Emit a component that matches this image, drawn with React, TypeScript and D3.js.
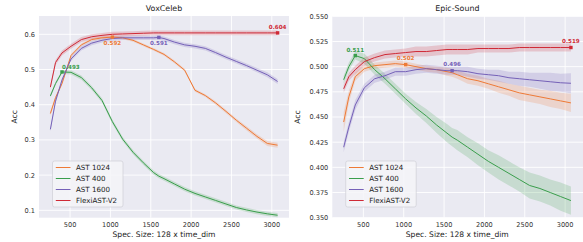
import React, { useEffect, useRef } from "react";
import * as d3 from "d3";

// spectrogram sizes (128 x time_dim)
const specSizes = [256, 320, 400, 512, 640, 768, 896, 1024, 1152, 1280, 1408, 1536, 1600, 1664, 1792, 1920, 2048, 2176, 2304, 2432, 2560, 2688, 2816, 2944, 3072];

const seriesNames = ["AST 1024", "AST 400", "AST 1600", "FlexiAST-V2"];
const colors = ["#ee7a36", "#3a9e4c", "#7561b8", "#cf2a36"];

// VoxCeleb
const voxAst1024 = [0.375, 0.42, 0.46, 0.54, 0.57, 0.585, 0.59, 0.592, 0.59, 0.583, 0.57, 0.557, 0.55, 0.543, 0.522, 0.498, 0.441, 0.426, 0.405, 0.381, 0.356, 0.333, 0.31, 0.29, 0.285];
const voxAst400 = [0.425, 0.46, 0.493, 0.492, 0.477, 0.448, 0.412, 0.352, 0.302, 0.265, 0.235, 0.207, 0.197, 0.19, 0.175, 0.16, 0.148, 0.138, 0.128, 0.118, 0.108, 0.101, 0.095, 0.09, 0.086];
const voxAst1600 = [0.33, 0.41, 0.47, 0.53, 0.56, 0.575, 0.583, 0.588, 0.59, 0.59, 0.59, 0.59, 0.591, 0.588, 0.578, 0.57, 0.566, 0.56, 0.548, 0.535, 0.523, 0.511, 0.498, 0.485, 0.466];
const voxFlexi = [0.45, 0.52, 0.547, 0.566, 0.585, 0.593, 0.597, 0.6, 0.601, 0.602, 0.603, 0.604, 0.604, 0.604, 0.604, 0.604, 0.604, 0.604, 0.604, 0.604, 0.604, 0.604, 0.604, 0.604, 0.604];
const voxErr1024 = [0.006, 0.005, 0.004, 0.004, 0.004, 0.004, 0.004, 0.004, 0.004, 0.004, 0.004, 0.004, 0.004, 0.004, 0.004, 0.004, 0.004, 0.004, 0.005, 0.005, 0.005, 0.006, 0.006, 0.007, 0.007];
const voxErr400 = [0.005, 0.005, 0.005, 0.006, 0.006, 0.006, 0.006, 0.006, 0.006, 0.006, 0.006, 0.006, 0.006, 0.006, 0.006, 0.006, 0.006, 0.006, 0.006, 0.006, 0.006, 0.006, 0.006, 0.006, 0.006];
const voxErr1600 = [0.006, 0.006, 0.006, 0.006, 0.006, 0.006, 0.006, 0.006, 0.006, 0.006, 0.006, 0.006, 0.006, 0.006, 0.006, 0.006, 0.006, 0.006, 0.006, 0.006, 0.006, 0.006, 0.006, 0.007, 0.007];
const voxErrFlexi = [0.006, 0.007, 0.007, 0.007, 0.007, 0.007, 0.007, 0.007, 0.007, 0.007, 0.007, 0.007, 0.007, 0.007, 0.007, 0.007, 0.007, 0.007, 0.007, 0.007, 0.007, 0.007, 0.007, 0.007, 0.007];

// Epic-Sound
const epicAst1024 = [0.445, 0.47, 0.49, 0.498, 0.501, 0.502, 0.503, 0.502, 0.5, 0.498, 0.497, 0.495, 0.494, 0.492, 0.488, 0.486, 0.483, 0.48, 0.477, 0.474, 0.472, 0.47, 0.468, 0.466, 0.464];
const epicAst400 = [0.487, 0.5, 0.511, 0.508, 0.497, 0.488, 0.478, 0.468, 0.459, 0.451, 0.442, 0.434, 0.43, 0.427, 0.42, 0.413, 0.406, 0.4, 0.394, 0.388, 0.382, 0.379, 0.375, 0.371, 0.367];
const epicAst1600 = [0.42, 0.44, 0.462, 0.479, 0.488, 0.491, 0.495, 0.495, 0.497, 0.498, 0.497, 0.496, 0.496, 0.496, 0.495, 0.493, 0.492, 0.491, 0.489, 0.488, 0.487, 0.486, 0.485, 0.484, 0.4835];
const epicFlexi = [0.478, 0.49, 0.497, 0.505, 0.509, 0.512, 0.513, 0.514, 0.515, 0.515, 0.516, 0.517, 0.517, 0.517, 0.517, 0.518, 0.518, 0.518, 0.518, 0.519, 0.519, 0.519, 0.519, 0.519, 0.519];
const epicErr1024 = [0.01, 0.006, 0.004, 0.003, 0.003, 0.003, 0.003, 0.003, 0.003, 0.003, 0.003, 0.004, 0.004, 0.004, 0.005, 0.005, 0.005, 0.006, 0.006, 0.007, 0.007, 0.007, 0.008, 0.008, 0.009];
const epicErr400 = [0.004, 0.004, 0.004, 0.005, 0.005, 0.005, 0.005, 0.005, 0.006, 0.007, 0.008, 0.009, 0.009, 0.01, 0.01, 0.011, 0.011, 0.012, 0.012, 0.012, 0.013, 0.013, 0.013, 0.014, 0.014];
const epicErr1600 = [0.005, 0.005, 0.005, 0.004, 0.004, 0.004, 0.004, 0.004, 0.004, 0.004, 0.004, 0.004, 0.004, 0.004, 0.005, 0.005, 0.005, 0.006, 0.006, 0.007, 0.007, 0.008, 0.009, 0.009, 0.01];
const epicErrFlexi = [0.004, 0.004, 0.004, 0.004, 0.004, 0.004, 0.004, 0.004, 0.005, 0.005, 0.005, 0.005, 0.005, 0.005, 0.005, 0.004, 0.004, 0.004, 0.004, 0.004, 0.004, 0.004, 0.004, 0.004, 0.004];

const voxTicksY = [0.1, 0.2, 0.3, 0.4, 0.5, 0.6];
const epicTicksY = [0.35, 0.375, 0.4, 0.425, 0.45, 0.475, 0.5, 0.525, 0.55];
const ticksX = [500, 1000, 1500, 2000, 2500, 3000];

const FONT = "DejaVu Sans, sans-serif";

function drawPanel(root, opts) {
  const { x0, x1, y0, y1, yDomain, yTicks, yFmt, title, values, errs, peaks, legendX } = opts;
  const g = root.append("g");

  const x = d3.scaleLinear().domain([115, 3213]).range([x0, x0 + 250]);
  const y = d3.scaleLinear().domain(yDomain).range([y1, y0]);

  g.append("rect").attr("x", x0).attr("y", y0).attr("width", x1 - x0).attr("height", y1 - y0).attr("fill", "#eaeaf2");

  // grid
  g.selectAll(".gx").data(ticksX).enter().append("line")
    .attr("x1", d => x(d)).attr("x2", d => x(d)).attr("y1", y0).attr("y2", y1)
    .attr("stroke", "#fff").attr("stroke-width", 0.9);
  g.selectAll(".gy").data(yTicks).enter().append("line")
    .attr("x1", x0).attr("x2", x1).attr("y1", d => y(d)).attr("y2", d => y(d))
    .attr("stroke", "#fff").attr("stroke-width", 0.9);

  // tick labels
  g.selectAll(".tx").data(ticksX).enter().append("text")
    .attr("x", d => x(d)).attr("y", y1 + 9.5)
    .attr("text-anchor", "middle").attr("font-size", 6.6).attr("fill", "#333").attr("font-family", FONT)
    .text(d => d);
  g.selectAll(".ty").data(yTicks).enter().append("text")
    .attr("x", x0 - 4).attr("y", d => y(d) + 2.4)
    .attr("text-anchor", "end").attr("font-size", 6.6).attr("fill", "#333").attr("font-family", FONT)
    .text(d => d3.format(yFmt)(d));

  g.append("text").attr("x", x0 + 125).attr("y", 11)
    .attr("text-anchor", "middle").attr("font-size", 7.9).attr("fill", "#222").attr("font-family", FONT)
    .text(title);
  g.append("text").attr("x", x0 + 125).attr("y", 237)
    .attr("text-anchor", "middle").attr("font-size", 7.6).attr("fill", "#222").attr("font-family", FONT)
    .text("Spec. Size: 128 x time_dim");
  g.append("text")
    .attr("transform", `translate(${opts.accX},${(y0 + y1) / 2}) rotate(-90)`)
    .attr("text-anchor", "middle").attr("font-size", 7.6).attr("fill", "#222").attr("font-family", FONT)
    .text("Acc");

  const clip = g.append("g");
  const area = d3.area().x((d, i) => x(specSizes[i])).y0(d => y(d[0])).y1(d => y(d[1]));
  const line = d3.line().x((d, i) => x(specSizes[i])).y(d => y(d));

  values.forEach((vals, s) => {
    const band = vals.map((v, i) => [v - errs[s][i], v + errs[s][i]]);
    clip.append("path").attr("d", area(band)).attr("fill", colors[s]).attr("fill-opacity", 0.2);
  });
  values.forEach((vals, s) => {
    clip.append("path").attr("d", line(vals)).attr("fill", "none").attr("stroke", colors[s]).attr("stroke-width", 1);
  });

  peaks.forEach(p => {
    const v = values[p.s][specSizes.indexOf(p.x)];
    const px = x(p.x), py = y(v);
    g.append("rect").attr("x", px - 1.7).attr("y", py - 1.7).attr("width", 3.4).attr("height", 3.4).attr("fill", colors[p.s]);
    g.append("text").attr("x", px).attr("y", py + p.dy)
      .attr("text-anchor", p.anchor).attr("font-size", 5.6).attr("font-weight", "bold")
      .attr("fill", colors[p.s]).attr("font-family", FONT)
      .text(d3.format(".3f")(v));
  });

  // legend
  const lg = g.append("g").attr("transform", `translate(${legendX},161)`);
  lg.append("rect").attr("x", 0).attr("y", 0).attr("width", 70.5).attr("height", 46).attr("rx", 2)
    .attr("fill", "#f4f4f8").attr("fill-opacity", 0.85).attr("stroke", "#cfcfd6").attr("stroke-width", 0.7);
  seriesNames.forEach((n, i) => {
    const yy = 6.5 + i * 11;
    lg.append("line").attr("x1", 3.3).attr("x2", 18).attr("y1", yy).attr("y2", yy).attr("stroke", colors[i]).attr("stroke-width", 1);
    lg.append("text").attr("x", 23.5).attr("y", yy + 2.5).attr("font-size", 7.1).attr("fill", "#222").attr("font-family", FONT).text(n);
  });
}

export default function App() {
  const ref = useRef(null);

  useEffect(() => {
    const svg = d3.select(ref.current);
    svg.selectAll("*").remove();

    drawPanel(svg, {
      x0: 39, x1: 289, y0: 16, y1: 217.7,
      yDomain: [0.079, 0.652], yTicks: voxTicksY, yFmt: ".1f",
      title: "VoxCeleb", accX: 17,
      values: [voxAst1024, voxAst400, voxAst1600, voxFlexi],
      errs: [voxErr1024, voxErr400, voxErr1600, voxErrFlexi],
      peaks: [
        { s: 1, x: 400, dy: -3, anchor: "start" },
        { s: 0, x: 1024, dy: 7.5, anchor: "middle" },
        { s: 2, x: 1600, dy: 7.5, anchor: "middle" },
        { s: 3, x: 3072, dy: -3.5, anchor: "middle" },
      ],
      legendX: 52.5,
    });

    drawPanel(svg, {
      x0: 332.3, x1: 583, y0: 16.3, y1: 217.7,
      yDomain: [0.35, 0.55], yTicks: epicTicksY, yFmt: ".3f",
      title: "Epic-Sound", accX: 300,
      values: [epicAst1024, epicAst400, epicAst1600, epicFlexi],
      errs: [epicErr1024, epicErr400, epicErr1600, epicErrFlexi],
      peaks: [
        { s: 1, x: 400, dy: -4, anchor: "middle" },
        { s: 0, x: 1024, dy: -4.5, anchor: "middle" },
        { s: 2, x: 1600, dy: -4.5, anchor: "middle" },
        { s: 3, x: 3072, dy: -4.5, anchor: "middle" },
      ],
      legendX: 345.7,
    });
  }, []);

  return (
    <svg ref={ref} width={583} height={242}
      style={{ position: "absolute", left: 0, top: 0, background: "#fff" }} />
  );
}
